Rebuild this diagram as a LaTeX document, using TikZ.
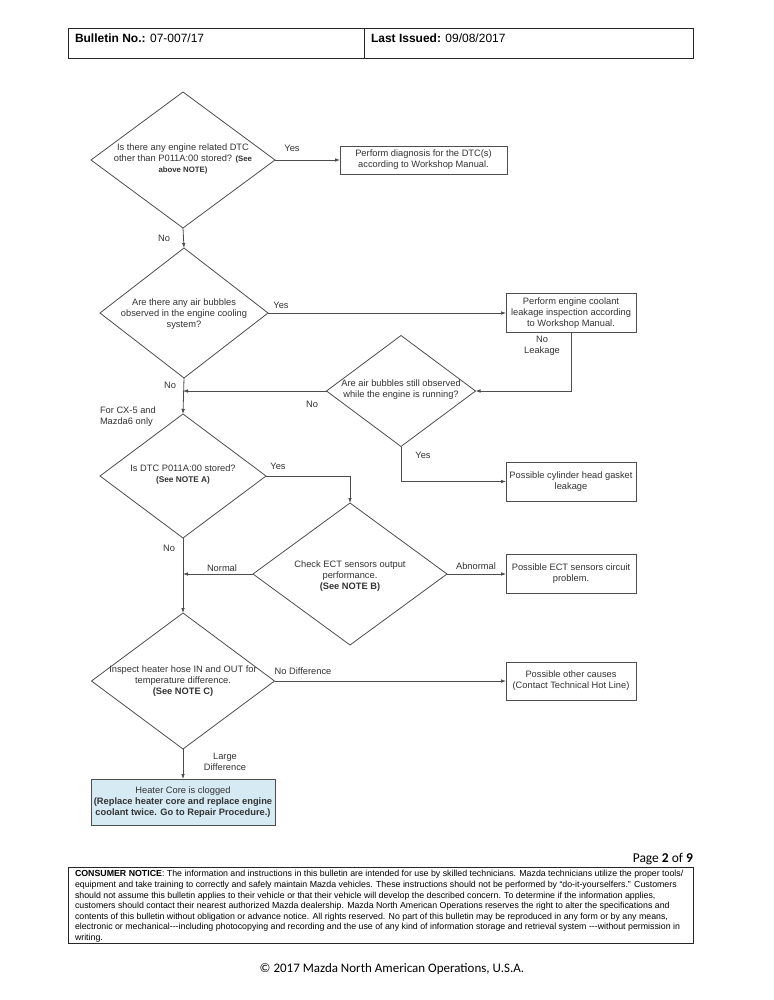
\documentclass[tikz,border=0pt]{standalone}
\usepackage{fontspec}
\setmainfont{Liberation Sans}
\newfontfamily\calibri{Carlito}
\usetikzlibrary{shapes.geometric,arrows.meta}
\definecolor{ln}{HTML}{4D4D4D}
\definecolor{tx}{HTML}{333333}
\definecolor{blu}{HTML}{D5EAF3}
\begin{document}
\begin{tikzpicture}[x=1pt,y=-1pt,
  every node/.style={inner sep=0pt,outer sep=0pt},
  dia/.style 2 args={draw=ln,line width=0.8pt,diamond,minimum width=#1,minimum height=#2},
  box/.style={draw=ln,line width=0.8pt,rectangle,align=center,text=tx,font=\fontsize{9.3}{11}\selectfont},
  lbl/.style={text=tx,align=center,font=\fontsize{9.3}{11}\selectfont},
  con/.style={draw=ln,line width=0.8pt},
  arr/.style={con,-{Latex[length=5pt,width=3.6pt]}},
  frame/.style={draw=black!85,line width=0.8pt,rectangle,anchor=north west}
]
\fill[white] (0,0) rectangle (773,1000);
\useasboundingbox (0,0) rectangle (773,1000);

% header
\node[frame,minimum width=296pt,minimum height=30pt] (hl) at (68,28) {};
\node[frame,minimum width=329pt,minimum height=30pt] (hr) at (364,28) {};
\node[anchor=west,font=\fontsize{12}{14}\selectfont] (hlt) at (75,38) {\textbf{Bulletin No.:} 07-007/17};
\node[anchor=west,font=\fontsize{12}{14}\selectfont] (hrt) at (371,38) {\textbf{Last Issued:} 09/08/2017};

% diamonds
\node[dia={184pt}{136pt}] (d1) at (183,160) {};
\node[lbl] (d1t) at (183,159) {Is there any engine related DTC\\other than P011A:00 stored? {\fontsize{7.8}{9}\selectfont\bfseries(See}\\{\fontsize{7.8}{9}\selectfont\bfseries above NOTE)}};
\node[dia={168pt}{130pt}] (d2) at (184,313) {};
\node[lbl] (d2t) at (184,314) {Are there any air bubbles\\observed in the engine cooling\\system?};
\node[dia={149pt}{111pt}] (d3) at (401,391) {};
\node[lbl] (d3t) at (401,390) {Are air bubbles still observed\\while the engine is running?};
\node[dia={166pt}{124pt}] (d4) at (183,476) {};
\node[lbl] (d4t) at (183,474) {Is DTC P011A:00 stored?\\{\fontsize{8.3}{10}\selectfont\bfseries(See NOTE A)}};
\node[dia={194pt}{142pt}] (d5) at (350,574) {};
\node[lbl] (d5t) at (350,576) {Check ECT sensors output\\performance.\\\textbf{(See NOTE B)}};
\node[dia={183pt}{136pt}] (d6) at (183,681) {};
\node[lbl] (d6t) at (183,681) {Inspect heater hose IN and OUT for\\temperature difference.\\\textbf{(See NOTE C)}};

% boxes
\node[box,minimum width=167pt,minimum height=28pt] (b1) at (423.5,160) {Perform diagnosis for the DTC(s)\\according to Workshop Manual.};
\node[box,minimum width=130pt,minimum height=39pt] (b2) at (571,313) {Perform engine coolant\\leakage inspection according\\to Workshop Manual.};
\node[box,minimum width=130pt,minimum height=39pt] (b6) at (571,481.5) {Possible cylinder head gasket\\leakage};
\node[box,minimum width=130pt,minimum height=39pt] (b3) at (571,574) {Possible ECT sensors circuit\\problem.};
\node[box,minimum width=130pt,minimum height=38pt] (b4) at (571,681) {Possible other causes\\(Contact Technical Hot Line)};
\node[box,fill=blu,minimum width=184pt,minimum height=46pt] (b5) at (183,802) {Heater Core is clogged\\\textbf{(Replace heater core and replace engine}\\\textbf{coolant twice. Go to Repair Procedure.)}};

% junctions
\coordinate (j1) at (183,391);
\coordinate (j2) at (183,574);

% connectors
\draw[arr] (d1.east) -- (b1.west);
\draw[arr] (d1.south) -- (d2.north);
\draw[arr] (d2.east) -- (b2.west);
\draw[arr] (b2.south) |- (d3.east);
\draw[arr] (d3.west) -- (j1);
\draw[arr] (d2.south) -- (d4.north);
\draw[arr] (d3.south) |- (b6.west);
\draw[arr] (d4.east) -| (d5.north);
\draw[arr] (d5.west) -- (j2);
\draw[arr] (d5.east) -- (b3.west);
\draw[arr] (d4.south) -- (d6.north);
\draw[arr] (d6.east) -- (b4.west);
\draw[arr] (d6.south) -- (b5.north);

% labels
\node[lbl] (l1) at (292,148) {Yes};
\node[lbl] (l2) at (164,238) {No};
\node[lbl] (l3) at (281,305) {Yes};
\node[lbl] (l4) at (542,346) {No\\Leakage};
\node[lbl] (l5) at (170,385) {No};
\node[lbl] (l6) at (312,404) {No};
\node[lbl,anchor=west,align=left] (l7) at (100,417) {For CX-5 and\\Mazda6 only};
\node[lbl] (l8) at (423,455) {Yes};
\node[lbl] (l9) at (278,466) {Yes};
\node[lbl] (l10) at (169,548) {No};
\node[lbl] (l11) at (222,568) {Normal};
\node[lbl] (l12) at (476,566) {Abnormal};
\node[lbl] (l13) at (303,671) {No Difference};
\node[lbl] (l14) at (225,762) {Large\\Difference};

% footer
\node[anchor=east,font=\calibri\fontsize{13.5}{15}\selectfont] (pg) at (693,859) {Page \textbf{2} of \textbf{9}};
\node[frame,minimum width=625pt,minimum height=76pt] (nb) at (68,867) {};
\node[anchor=north west,align=left,font=\fontsize{8.8}{10.6}\selectfont] (nt) at (75,870.5) {\textbf{CONSUMER NOTICE}: The information and instructions in this bulletin are intended for use by skilled technicians. Mazda technicians utilize the proper tools/\\
equipment and take training to correctly and safely maintain Mazda vehicles. These instructions should not be performed by “do-it-yourselfers.” Customers\\
should not assume this bulletin applies to their vehicle or that their vehicle will develop the described concern. To determine if the information applies,\\
customers should contact their nearest authorized Mazda dealership. Mazda North American Operations reserves the right to alter the specifications and\\
contents of this bulletin without obligation or advance notice. All rights reserved. No part of this bulletin may be reproduced in any form or by any means,\\
electronic or mechanical-{}-{}-including photocopying and recording and the use of any kind of information storage and retrieval system -{}-{}-without permission in\\
writing.};
\node[font=\calibri\fontsize{13}{15}\selectfont] (cp) at (392,969) {© 2017 Mazda North American Operations, U.S.A.};
\end{tikzpicture}
\end{document}
